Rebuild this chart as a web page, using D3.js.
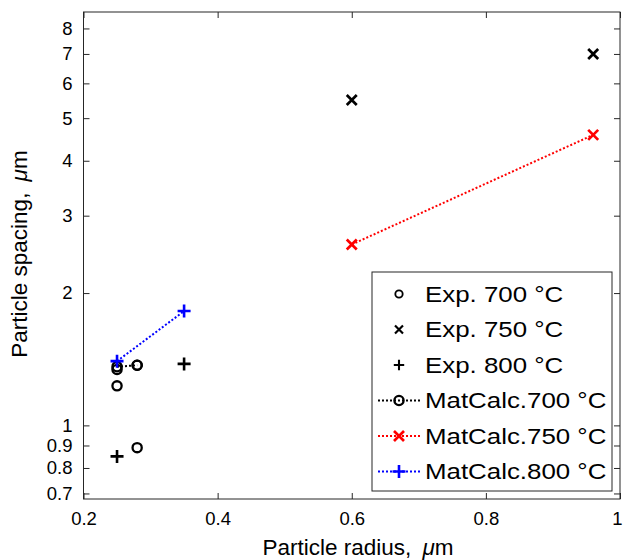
<!DOCTYPE html>
<html>
<head>
<meta charset="utf-8">
<script src="https://cdn.jsdelivr.net/npm/d3@7"></script>
<style>
  body { margin: 0; background: #fff; }
  svg { font-family: "Liberation Sans", Arial, sans-serif; }
</style>
</head>
<body>
<script>
// data
const exp700R = [0.25, 0.28, 0.25, 0.28]
const exp700S = [1.34, 1.37, 1.23, 0.89]
const exp750R = [0.6, 0.96]
const exp750S = [5.5, 7.0]
const exp800R = [0.25, 0.35]
const exp800S = [0.85, 1.38]
const mc700R = [0.25, 0.28]
const mc700S = [1.36, 1.37]
const mc750R = [0.6, 0.96]
const mc750S = [2.58, 4.58]
const mc800R = [0.25, 0.35]
const mc800S = [1.40, 1.82]

const xTicks = [0.2, 0.4, 0.6, 0.8, 1]
const yTicks = [0.7, 0.8, 0.9, 1, 2, 3, 4, 5, 6, 7, 8]
const legendLabels = ['Exp. 700 °C', 'Exp. 750 °C', 'Exp. 800 °C',
  'MatCalc.700 °C', 'MatCalc.750 °C', 'MatCalc.800 °C']

const W = 624, H = 560
const margin = {top: 12, right: 4, bottom: 61, left: 83.5}
const width = W - margin.left - margin.right,
      height = H - margin.top - margin.bottom

const svg = d3.select('body').append('svg')
  .attr('width', W).attr('height', H)
const g = svg.append('g')
  .attr('transform', 'translate(' + margin.left + ',' + margin.top + ')')

const x = d3.scaleLinear().domain([0.2, 1]).range([0, width])
const y = d3.scaleLog().domain([0.68, 8.72]).range([height, 0])

const axisColor = '#262626'
function styleAxis(sel, hideText) {
  sel.select('.domain').remove()
  sel.selectAll('line').attr('stroke', axisColor).attr('stroke-width', 1)
  sel.selectAll('text').attr('fill', '#000').style('font-size', '18.5px')
  if (hideText) sel.selectAll('text').remove()
}

// ticks point inward, like a matlab box
g.append('g').attr('transform', 'translate(0,' + height + ')')
  .call(d3.axisBottom(x).tickValues(xTicks).tickSize(-6).tickPadding(13)
    .tickFormat(d => d === 1 ? '1' : d3.format('.1f')(d)))
  .call(styleAxis)
  .call(s => s.selectAll('text').filter(d => d === 1).attr('dx', -3))
g.append('g')
  .call(d3.axisTop(x).tickValues(xTicks).tickSize(-6))
  .call(s => styleAxis(s, true))
g.append('g')
  .call(d3.axisLeft(y).tickValues(yTicks).tickSize(-6).tickPadding(11)
    .tickFormat(d => d < 1 ? d3.format('.1f')(d) : d3.format('d')(d)))
  .call(styleAxis)
g.append('g').attr('transform', 'translate(' + width + ',0)')
  .call(d3.axisRight(y).tickValues(yTicks).tickSize(-6))
  .call(s => styleAxis(s, true))

g.append('rect').attr('width', width).attr('height', height)
  .attr('fill', 'none').attr('stroke', axisColor).attr('stroke-width', 1)

// markers
function marker(sel, type, color) {
  if (type === 'o') {
    sel.append('circle').attr('r', 4.6).attr('fill', 'none')
      .attr('stroke', color).attr('stroke-width', 2.3)
  } else if (type === 'x') {
    sel.append('path').attr('d', 'M-5,-5L5,5M-5,5L5,-5')
      .attr('stroke', color).attr('stroke-width', 2.7)
  } else {
    sel.append('path').attr('d', 'M-6.5,0H6.5M0,-6.5V6.5')
      .attr('stroke', color).attr('stroke-width', 2.6)
  }
}

function series(rs, ss, type, color, dotted) {
  const pts = rs.map((r, i) => [r, ss[i]])
  if (dotted) {
    g.append('path').datum(pts)
      .attr('d', d3.line().x(d => x(d[0])).y(d => y(d[1])))
      .attr('fill', 'none').attr('stroke', color)
      .attr('stroke-width', 2).attr('stroke-dasharray', '2,2')
  }
  g.selectAll(null).data(pts).enter().append('g')
    .attr('transform', d => 'translate(' + x(d[0]) + ',' + y(d[1]) + ')')
    .each(function () { marker(d3.select(this), type, color) })
}

series(exp700R, exp700S, 'o', '#000', false)
series(exp750R, exp750S, 'x', '#000', false)
series(exp800R, exp800S, '+', '#000', false)
series(mc700R, mc700S, 'o', '#000', true)
series(mc750R, mc750S, 'x', '#ff0000', true)
series(mc800R, mc800S, '+', '#0000ff', true)

// legend
const legendTypes = ['o', 'x', '+', 'o', 'x', '+']
const legendColors = ['#000', '#000', '#000', '#000', '#ff0000', '#0000ff']
const leg = svg.append('g').attr('transform', 'translate(372,272)')
leg.append('rect').attr('width', 240).attr('height', 219)
  .attr('fill', '#fff').attr('stroke', axisColor).attr('stroke-width', 1)
legendLabels.forEach((lab, i) => {
  const row = leg.append('g').attr('transform', 'translate(0,' + (22 + i * 35.5) + ')')
  if (i >= 3) {
    row.append('line').attr('x1', 6).attr('x2', 48)
      .attr('stroke', legendColors[i]).attr('stroke-width', 2)
      .attr('stroke-dasharray', '2,2')
  }
  const m = row.append('g').attr('transform', 'translate(27,0)')
  if (i < 3) {
    // smaller markers for the experiment rows
    m.attr('transform', 'translate(27,0) scale(0.8)')
  }
  marker(m, legendTypes[i], legendColors[i])
  row.append('text').attr('transform', 'translate(53,7.5) scale(1.15,1)')
    .style('font-size', '22.5px').attr('fill', '#000').text(lab)
})

// axis titles
const xt = svg.append('text').attr('x', 358).attr('y', 555)
  .attr('text-anchor', 'middle').style('font-size', '22.5px')
xt.append('tspan').text('Particle radius, ')
xt.append('tspan').attr('dx', 5).style('font-style', 'italic').text('μ')
xt.append('tspan').text('m')

const yt = svg.append('text')
  .attr('transform', 'translate(27,254) rotate(-90)')
  .attr('text-anchor', 'middle').style('font-size', '22.5px')
yt.append('tspan').text('Particle spacing, ')
yt.append('tspan').attr('dx', 5).style('font-style', 'italic').text('μ')
yt.append('tspan').text('m')
</script>
</body>
</html>
